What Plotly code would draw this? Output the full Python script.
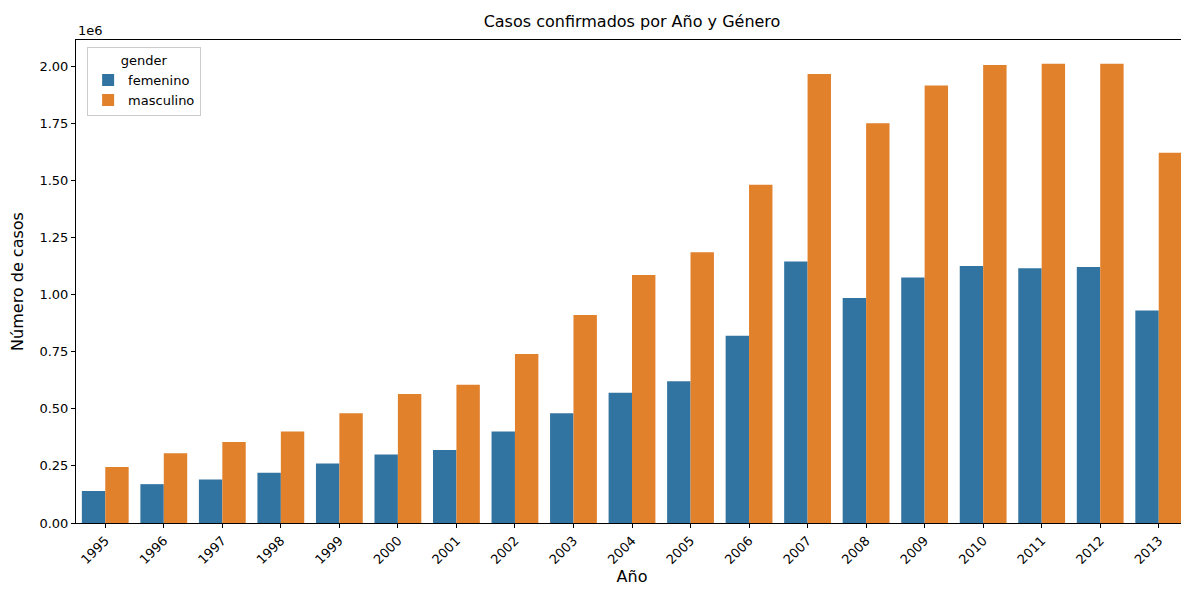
import plotly.graph_objects as go

years = [str(y) for y in range(1995, 2014)]
femenino = [0.14, 0.17, 0.19, 0.22, 0.26, 0.30, 0.32, 0.40, 0.48, 0.57, 0.62, 0.82,
            1.145, 0.985, 1.075, 1.125, 1.115, 1.12, 0.93]
masculino = [0.245, 0.305, 0.355, 0.40, 0.48, 0.565, 0.605, 0.74, 0.91, 1.085, 1.185, 1.48,
             1.965, 1.75, 1.915, 2.005, 2.01, 2.01, 1.62]

fig = go.Figure()
fig.add_trace(go.Bar(x=years, y=[v * 1e6 for v in femenino], name="femenino",
                     marker=dict(color="#3274a1", line=dict(width=0))))
fig.add_trace(go.Bar(x=years, y=[v * 1e6 for v in masculino], name="masculino",
                     marker=dict(color="#e1812c", line=dict(width=0))))

axis_style = dict(showline=True, linecolor="black", linewidth=1, mirror=True,
                  ticks="outside", ticklen=4, tickcolor="black", showgrid=False,
                  zeroline=False, automargin=False, tickfont=dict(size=13, color="black"))

fig.update_layout(
    width=1189, height=589,
    margin=dict(l=68, r=9, t=32, b=74),
    plot_bgcolor="white", paper_bgcolor="white",
    font=dict(family="DejaVu Sans", size=13, color="black"),
    title=dict(text="Casos confirmados por Año y Género", x=0.5, xanchor="center",
               xref="paper", y=1, yref="container", yanchor="top", pad=dict(t=8),
               font=dict(size=16)),
    barmode="group", bargap=0.2, bargroupgap=0,
    legend=dict(title=dict(text="gender", side="top center", font=dict(size=13)),
                x=0.01, y=0.985, xanchor="left", yanchor="top",
                bgcolor="rgba(255,255,255,0.8)", bordercolor="#cccccc", borderwidth=1,
                font=dict(size=13)),
    xaxis=dict(axis_style, title=dict(text="Año", standoff=4), tickangle=-45),
    yaxis=dict(axis_style, title=dict(text="Número de casos"), range=[0, 2.114e6],
               tickvals=[i * 0.25e6 for i in range(9)],
               ticktext=[f"{i * 0.25:.2f}" for i in range(9)]),
)
fig.add_annotation(text="1e6", xref="paper", yref="paper", x=0, y=1, xanchor="left",
                   yanchor="bottom", showarrow=False, font=dict(size=13))

fig.write_html("out.html")
